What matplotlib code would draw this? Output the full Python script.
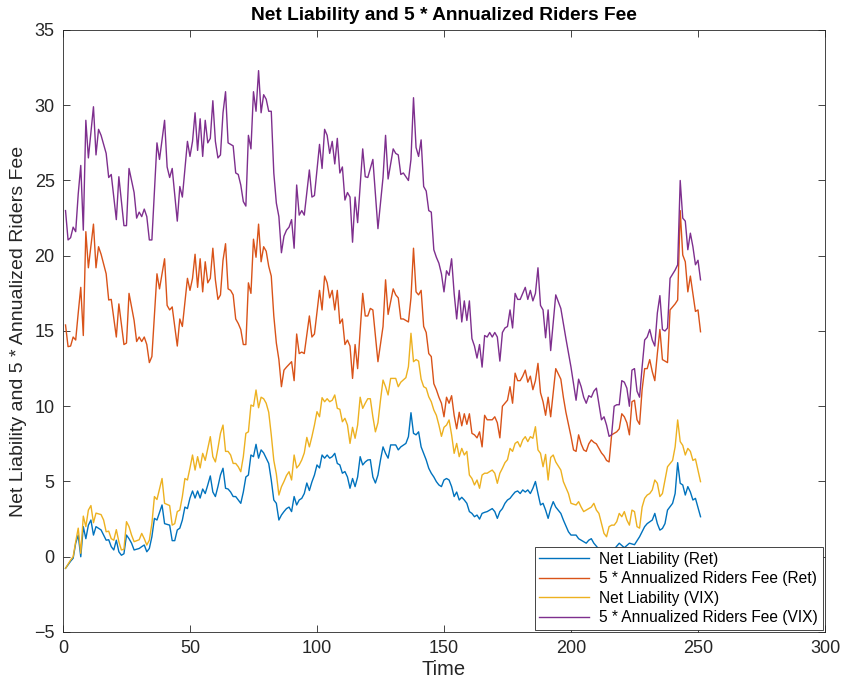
import numpy as np
import matplotlib.pyplot as plt

plt.rcParams['font.family'] = ['Liberation Sans', 'DejaVu Sans']

# (time, value) pairs
net_ret = [(1, -0.77), (3, -0.3), (4, -0.1), (5, 0.9), (6, 1.44), (7, 0.0), (8, 2.0), (9, 1.2), (10, 2.1),
           (11, 2.44), (12, 1.44), (13, 2.0), (15, 1.78), (16, 1.44), (17, 1.1), (18, 1.13), (19, 0.67),
           (20, 0.45), (21, 1.1), (22, 0.33), (23, 0.1), (24, 0.2), (25, 1.44), (26, 1.2), (27, 0.9),
           (28, 0.45), (30, 0.55), (31, 0.67), (32, 0.78), (33, 0.33), (34, 0.55), (35, 1.33), (36, 2.55),
           (37, 2.44), (39, 3.44), (40, 2.2), (42, 2.1), (43, 1.07), (44, 1.07), (45, 1.78), (46, 1.9),
           (47, 2.44), (48, 3.3), (49, 3.2), (50, 3.9), (51, 4.37), (52, 3.9), (53, 4.37), (54, 3.9),
           (55, 4.5), (56, 4.2), (57, 4.77), (58, 5.37), (59, 4.3), (60, 4.0), (61, 4.66), (62, 5.43),
           (63, 5.88), (64, 4.55), (65, 4.5), (66, 4.3), (67, 4.0), (68, 4.0), (69, 3.77), (70, 3.55),
           (71, 4.3), (72, 5.3), (73, 5.43), (74, 6.76), (75, 6.65), (76, 7.47), (77, 6.55), (78, 7.1),
           (79, 6.9), (80, 6.55), (81, 6.2), (82, 5.1), (83, 3.77), (84, 3.55), (85, 2.44), (86, 2.77),
           (87, 3.0), (88, 3.2), (89, 3.3), (90, 3.0), (91, 4.0), (92, 3.44), (93, 3.77), (94, 3.88),
           (95, 4.2), (96, 4.9), (97, 4.4), (98, 4.97), (99, 5.43), (100, 6.1), (101, 5.9), (102, 6.76),
           (103, 6.55), (104, 6.76), (105, 6.55), (106, 6.65), (107, 6.87), (108, 6.2), (109, 6.1),
           (110, 5.55), (111, 5.66), (112, 5.3), (113, 4.55), (114, 5.2), (115, 4.66), (116, 5.3),
           (117, 6.65), (118, 6.1), (119, 6.3), (120, 6.43), (121, 6.45), (122, 5.3), (123, 4.9),
           (124, 5.43), (125, 6.43), (126, 7.3), (127, 6.87), (128, 6.55), (129, 7.43), (131, 7.43),
           (132, 7.1), (133, 7.3), (135, 7.53), (136, 7.98), (137, 9.57), (138, 8.2), (139, 8.1),
           (140, 8.3), (141, 7.3), (142, 6.87), (143, 6.43), (144, 5.88), (145, 5.55), (146, 5.3),
           (147, 4.99), (148, 4.77), (149, 4.66), (150, 5.1), (151, 5.2), (152, 5.1), (153, 4.66),
           (154, 4.0), (155, 4.3), (156, 3.77), (157, 3.95), (158, 3.77), (159, 3.55), (160, 3.0),
           (161, 2.88), (162, 2.66), (163, 2.77), (164, 2.5), (165, 2.88), (166, 2.95), (167, 3.0),
           (168, 3.1), (169, 3.2), (170, 3.0), (171, 2.55), (172, 3.0), (173, 3.2), (174, 3.55),
           (175, 3.77), (176, 3.88), (177, 4.1), (178, 4.3), (179, 4.37), (180, 4.2), (181, 4.44),
           (182, 4.3), (183, 4.44), (184, 4.2), (185, 4.55), (186, 5.0), (187, 4.2), (188, 3.44),
           (189, 3.55), (190, 3.1), (191, 2.55), (192, 3.2), (193, 3.66), (194, 3.3), (196, 2.88),
           (197, 2.44), (199, 1.66), (200, 1.44), (202, 1.44), (203, 1.2), (204, 1.1), (206, 0.9),
           (207, 1.1), (208, 1.2), (209, 0.9), (211, 0.5), (213, 0.2), (215, 0.1), (217, 0.5), (219, 0.9),
           (221, 0.6), (223, 0.9), (225, 0.8), (227, 1.33), (228, 1.66), (229, 2.0), (230, 2.2),
           (232, 2.44), (233, 2.88), (234, 2.2), (235, 1.77), (236, 1.88), (237, 2.2), (238, 3.1),
           (240, 3.55), (241, 4.2), (242, 6.25), (243, 4.88), (244, 4.77), (245, 4.1), (246, 4.66),
           (247, 4.3), (248, 3.77), (249, 3.88), (251, 2.66)]

fee_ret = [(1, 15.4), (2, 13.96), (3, 14.0), (4, 14.6), (5, 14.4), (6, 16.2), (7, 17.9), (8, 14.7), (9, 21.6),
           (10, 19.2), (12, 22.1), (13, 19.2), (14, 20.6), (15, 20.1), (17, 18.8), (18, 17.06), (19, 17.1),
           (21, 14.6), (22, 16.8), (24, 14.1), (25, 14.2), (26, 17.5), (28, 15.7), (29, 14.3), (30, 14.6),
           (31, 14.3), (32, 14.6), (33, 14.1), (34, 12.9), (35, 13.3), (37, 18.8), (38, 17.8), (40, 19.8),
           (41, 16.7), (42, 16.4), (43, 16.6), (45, 14.0), (46, 15.8), (47, 15.3), (49, 18.5), (50, 17.7),
           (51, 18.5), (52, 20.1), (53, 17.9), (54, 19.8), (55, 17.6), (56, 19.6), (57, 18.2), (58, 18.5),
           (59, 20.5), (60, 18.4), (61, 17.1), (62, 17.4), (63, 19.7), (64, 20.8), (65, 17.8), (66, 17.7),
           (67, 17.4), (68, 15.8), (69, 15.5), (70, 15.1), (71, 14.1), (72, 14.1), (73, 18.2), (74, 17.5),
           (75, 21.1), (76, 19.9), (77, 22.1), (78, 19.6), (79, 20.6), (80, 20.3), (81, 19.3), (82, 18.65),
           (83, 16.0), (84, 14.2), (85, 13.1), (86, 11.3), (87, 12.4), (88, 12.6), (90, 12.96), (91, 11.7),
           (92, 14.8), (93, 13.5), (94, 13.6), (95, 13.5), (97, 16.0), (98, 14.6), (99, 14.8), (101, 17.7),
           (102, 16.4), (103, 18.65), (104, 18.2), (105, 17.2), (106, 17.7), (107, 16.4), (108, 17.7),
           (109, 15.5), (110, 15.8), (111, 14.1), (112, 14.4), (113, 14.0), (114, 11.85), (115, 14.1),
           (116, 12.5), (118, 17.5), (119, 16.0), (120, 16.0), (121, 16.5), (122, 16.4), (124, 12.96),
           (126, 15.3), (127, 18.4), (128, 16.1), (130, 17.8), (131, 17.4), (132, 17.2), (133, 15.8),
           (134, 15.8), (136, 15.6), (137, 17.2), (138, 20.5), (139, 17.6), (140, 17.4), (141, 17.7),
           (142, 15.3), (143, 14.9), (144, 13.5), (145, 13.3), (146, 11.5), (147, 11.1), (148, 10.6),
           (149, 10.2), (150, 9.3), (151, 10.6), (152, 10.2), (153, 10.7), (154, 9.4), (155, 8.5),
           (156, 9.6), (157, 8.7), (158, 9.5), (159, 8.8), (160, 9.5), (161, 8.2), (162, 8.1), (163, 7.9),
           (164, 8.3), (165, 7.3), (166, 9.4), (167, 9.1), (168, 9.1), (169, 9.1), (170, 9.3), (171, 8.9),
           (172, 7.9), (173, 10.0), (174, 10.2), (175, 10.4), (176, 11.3), (177, 10.2), (178, 12.2),
           (179, 11.7), (180, 11.7), (181, 12.0), (182, 12.4), (183, 11.6), (184, 12.0), (185, 11.1),
           (186, 11.7), (187, 12.85), (188, 10.9), (189, 10.3), (190, 9.4), (191, 10.6), (192, 9.3),
           (194, 12.5), (196, 11.8), (197, 10.6), (198, 9.6), (200, 8.0), (201, 7.1), (202, 7.0),
           (203, 8.1), (204, 7.5), (205, 7.1), (206, 7.0), (207, 7.5), (208, 7.76), (209, 7.6), (210, 7.5),
           (212, 6.9), (213, 6.7), (214, 6.4), (215, 6.3), (216, 8.1), (217, 8.2), (218, 8.3), (219, 8.5),
           (220, 9.5), (221, 9.3), (222, 8.9), (223, 8.1), (224, 10.3), (225, 10.4), (226, 9.1), (227, 8.8),
           (228, 11.1), (229, 12.5), (230, 12.5), (231, 13.1), (232, 12.3), (233, 11.7), (234, 13.5),
           (235, 15.1), (236, 13.1), (237, 13.0), (238, 12.9), (239, 16.4), (241, 16.8), (242, 17.06),
           (243, 23.0), (244, 20.05), (245, 19.6), (246, 17.6), (247, 18.65), (248, 17.5), (249, 16.3),
           (250, 16.4), (251, 14.95)]

net_vix = [(1, -0.77), (3, -0.22), (4, 0.0), (5, 1.0), (6, 1.9), (7, 0.23), (8, 2.7), (9, 2.0), (10, 3.1),
           (11, 3.4), (12, 2.26), (13, 2.9), (15, 2.8), (16, 2.44), (17, 1.66), (18, 1.7), (19, 1.2),
           (20, 1.1), (21, 1.8), (22, 1.0), (23, 0.45), (24, 0.5), (25, 2.33), (26, 2.0), (27, 1.44),
           (28, 1.0), (30, 1.13), (31, 1.55), (32, 1.2), (33, 0.78), (34, 1.1), (35, 2.2), (36, 4.0),
           (37, 3.8), (39, 5.2), (40, 3.55), (42, 3.4), (43, 2.1), (44, 2.2), (45, 3.0), (46, 3.1),
           (47, 4.0), (48, 5.2), (49, 5.1), (50, 5.9), (51, 6.76), (52, 5.76), (53, 6.65), (54, 5.9),
           (55, 6.87), (56, 6.4), (57, 7.2), (58, 7.98), (59, 6.65), (60, 6.3), (61, 7.2), (62, 8.2),
           (63, 8.75), (64, 7.0), (65, 7.0), (66, 6.76), (67, 6.2), (68, 6.2), (69, 5.98), (70, 5.65),
           (71, 6.65), (72, 8.2), (73, 8.3), (74, 10.08), (75, 10.0), (76, 11.08), (77, 9.9), (78, 10.6),
           (79, 10.5), (80, 10.2), (81, 9.6), (82, 8.1), (83, 6.4), (84, 5.5), (85, 4.1), (86, 4.65),
           (87, 5.0), (88, 5.4), (89, 5.65), (90, 5.1), (91, 6.76), (92, 5.9), (93, 6.1), (94, 6.43),
           (95, 6.9), (96, 7.93), (97, 7.3), (98, 7.98), (99, 8.75), (100, 9.64), (101, 9.3), (102, 10.57),
           (103, 10.3), (104, 10.5), (105, 10.3), (106, 10.4), (107, 10.75), (108, 9.86), (109, 9.8),
           (110, 8.97), (111, 9.2), (112, 8.75), (113, 7.53), (114, 8.6), (115, 7.87), (116, 8.75),
           (117, 10.6), (118, 9.86), (119, 10.2), (120, 10.5), (121, 10.5), (122, 9.3), (123, 8.3),
           (124, 8.9), (125, 10.4), (126, 11.74), (127, 11.3), (128, 10.75), (129, 11.85), (131, 11.85),
           (132, 11.3), (133, 11.6), (135, 11.9), (136, 12.63), (137, 14.85), (138, 12.96), (139, 13.1),
           (140, 13.0), (141, 11.8), (142, 11.3), (143, 11.2), (144, 10.63), (145, 10.3), (146, 9.75),
           (147, 9.4), (148, 8.75), (149, 8.0), (150, 8.6), (151, 8.75), (152, 9.09), (153, 8.1),
           (154, 6.87), (155, 7.53), (156, 6.65), (157, 7.2), (158, 6.76), (159, 7.0), (160, 5.43),
           (161, 5.2), (162, 4.77), (163, 5.1), (164, 4.55), (165, 5.43), (166, 5.55), (167, 5.55),
           (168, 5.66), (169, 5.76), (170, 5.55), (171, 4.88), (172, 5.55), (173, 5.88), (174, 6.25),
           (175, 6.45), (176, 7.2), (177, 7.0), (178, 7.53), (179, 7.65), (180, 7.3), (181, 7.76),
           (182, 7.98), (183, 7.65), (184, 7.98), (185, 7.87), (186, 8.64), (187, 7.1), (188, 6.87),
           (189, 5.98), (190, 6.8), (191, 5.1), (192, 6.6), (193, 6.76), (194, 6.3), (196, 5.76),
           (197, 4.99), (199, 4.2), (200, 3.55), (202, 3.44), (203, 3.66), (204, 3.3), (205, 3.0),
           (206, 3.1), (208, 3.3), (209, 3.55), (210, 3.1), (211, 2.88), (212, 2.2), (213, 1.55),
           (214, 1.33), (215, 2.0), (216, 2.1), (217, 2.1), (218, 2.33), (219, 2.88), (220, 2.66),
           (221, 3.0), (222, 2.44), (223, 2.1), (224, 3.1), (225, 3.0), (226, 2.0), (227, 1.9), (228, 3.3),
           (229, 3.88), (230, 4.1), (231, 4.2), (232, 4.44), (233, 5.1), (234, 4.88), (235, 4.0),
           (236, 4.2), (237, 5.1), (238, 5.98), (240, 6.4), (241, 7.3), (242, 9.09), (243, 7.65),
           (244, 7.4), (245, 6.76), (246, 7.2), (247, 7.0), (248, 6.4), (249, 6.5), (251, 4.99)]

fee_vix = [(1, 23.0), (2, 21.05), (3, 21.2), (4, 21.9), (5, 21.6), (6, 24.1), (7, 26.0), (8, 21.7), (9, 29.0),
           (10, 26.5), (12, 29.9), (13, 26.7), (14, 28.4), (15, 28.0), (17, 26.8), (18, 25.2), (19, 25.4),
           (21, 22.4), (22, 25.25), (24, 22.0), (25, 22.0), (26, 25.8), (28, 24.2), (29, 22.5), (30, 22.9),
           (31, 22.6), (32, 23.1), (33, 22.6), (34, 21.05), (35, 21.05), (37, 27.5), (38, 26.4), (40, 29.0),
           (41, 25.9), (42, 25.2), (43, 25.8), (45, 22.3), (46, 24.6), (47, 23.9), (49, 27.6), (50, 26.6),
           (51, 27.6), (52, 29.5), (53, 27.0), (54, 29.1), (55, 26.6), (56, 29.0), (57, 27.5), (58, 27.8),
           (59, 30.3), (60, 27.6), (61, 26.5), (62, 26.7), (63, 29.5), (64, 30.9), (65, 27.5), (66, 27.4),
           (67, 27.3), (68, 25.5), (69, 25.4), (70, 24.7), (71, 23.6), (72, 23.3), (73, 28.0), (74, 27.1),
           (75, 30.9), (76, 29.6), (77, 32.3), (78, 29.5), (79, 30.7), (80, 30.4), (81, 29.6), (82, 29.6),
           (83, 25.5), (84, 23.5), (85, 22.6), (86, 20.2), (87, 21.3), (88, 21.7), (89, 21.9), (90, 22.4),
           (91, 20.5), (92, 24.7), (93, 22.7), (94, 23.0), (95, 22.7), (97, 25.7), (98, 23.9), (99, 24.0),
           (101, 27.4), (102, 25.8), (103, 28.4), (104, 28.0), (105, 26.8), (106, 27.6), (107, 26.1),
           (108, 27.8), (109, 25.5), (110, 25.9), (111, 23.7), (112, 24.2), (113, 23.9), (114, 20.9),
           (115, 23.9), (116, 22.2), (118, 27.1), (119, 25.25), (120, 25.2), (122, 26.4), (123, 24.1),
           (124, 21.8), (126, 25.2), (127, 28.0), (128, 25.1), (130, 27.1), (131, 26.8), (132, 26.7),
           (133, 25.4), (134, 25.5), (136, 25.0), (137, 26.4), (138, 30.5), (139, 27.2), (140, 26.6),
           (141, 27.7), (142, 24.6), (143, 24.3), (144, 23.0), (145, 22.9), (146, 20.4), (147, 19.9),
           (148, 19.5), (149, 18.8), (150, 17.6), (151, 19.0), (152, 18.7), (153, 19.8), (154, 17.5),
           (155, 15.8), (156, 17.7), (157, 15.6), (158, 17.0), (159, 15.7), (160, 17.0), (161, 14.5),
           (162, 14.0), (163, 13.2), (164, 14.1), (165, 12.6), (166, 14.7), (167, 14.6), (168, 14.9),
           (169, 14.6), (170, 14.9), (171, 14.6), (172, 13.0), (173, 14.9), (174, 15.2), (175, 15.3),
           (176, 16.4), (177, 15.2), (178, 17.5), (179, 17.1), (180, 17.1), (181, 17.5), (182, 17.9),
           (183, 17.1), (184, 17.7), (185, 17.0), (186, 17.5), (187, 19.2), (188, 16.7), (189, 16.4),
           (190, 14.55), (191, 16.4), (192, 13.7), (194, 17.4), (196, 16.5), (197, 15.5), (198, 14.5),
           (200, 12.6), (201, 11.5), (202, 10.4), (203, 11.8), (204, 11.3), (205, 10.6), (206, 10.2),
           (207, 10.7), (208, 10.6), (209, 11.0), (210, 11.2), (212, 9.1), (213, 9.3), (214, 8.75),
           (215, 8.0), (216, 8.1), (217, 10.0), (218, 10.1), (219, 10.1), (220, 11.7), (221, 11.6),
           (222, 11.2), (223, 10.0), (224, 12.4), (225, 12.5), (226, 11.0), (227, 10.6), (228, 12.6),
           (229, 14.4), (230, 14.6), (231, 15.1), (232, 14.4), (233, 14.0), (234, 16.2), (235, 17.35),
           (236, 15.1), (237, 15.0), (238, 15.2), (239, 18.5), (241, 19.05), (242, 19.4), (243, 25.0),
           (244, 22.5), (245, 22.3), (246, 20.4), (247, 21.5), (248, 20.6), (249, 19.4), (250, 19.7),
           (251, 18.4)]

series = [
    ('Net Liability (Ret)', net_ret, '#0072BD'),
    ('5 * Annualized Riders Fee (Ret)', fee_ret, '#D95319'),
    ('Net Liability (VIX)', net_vix, '#EDB120'),
    ('5 * Annualized Riders Fee (VIX)', fee_vix, '#7E2F8E'),
]

dark = '#262626'
fig = plt.figure(figsize=(8.42, 6.88), dpi=100)
ax = fig.add_axes([0.0748, 0.0814, 0.905, 0.875])

for name, pts, col in series:
    t, v = zip(*pts)
    ax.plot(t, v, color=col, lw=1.0, label=name)

ax.set_xlim(0, 300)
ax.set_ylim(-5, 35)
ax.set_xticks(np.arange(0, 301, 50))
ax.set_yticks(np.arange(-5, 36, 5))
ax.tick_params(direction='in', length=5, width=0.6, colors=dark, labelsize=13,
               top=True, right=True, pad=6)
for s in ax.spines.values():
    s.set_color(dark)
    s.set_linewidth(0.6)

ax.set_title('Net Liability and 5 * Annualized Riders Fee', fontsize=13.8, fontweight='bold',
             color='black', pad=7)
ax.set_xlabel('Time', fontsize=14.5, color=dark, labelpad=2)
ax.set_ylabel('Net Liability and 5 * Annualized Riders Fee', fontsize=14, color=dark, labelpad=5)

leg = ax.legend(loc='lower right', fontsize=11.2, frameon=True, fancybox=False, framealpha=1,
                edgecolor=dark, borderaxespad=0.15, handlelength=3.2, handletextpad=0.65,
                labelspacing=0.28, borderpad=0.3)
leg.get_frame().set_linewidth(0.6)
for txt in leg.get_texts():
    txt.set_color('black')

fig.savefig('out.png', dpi=100)
